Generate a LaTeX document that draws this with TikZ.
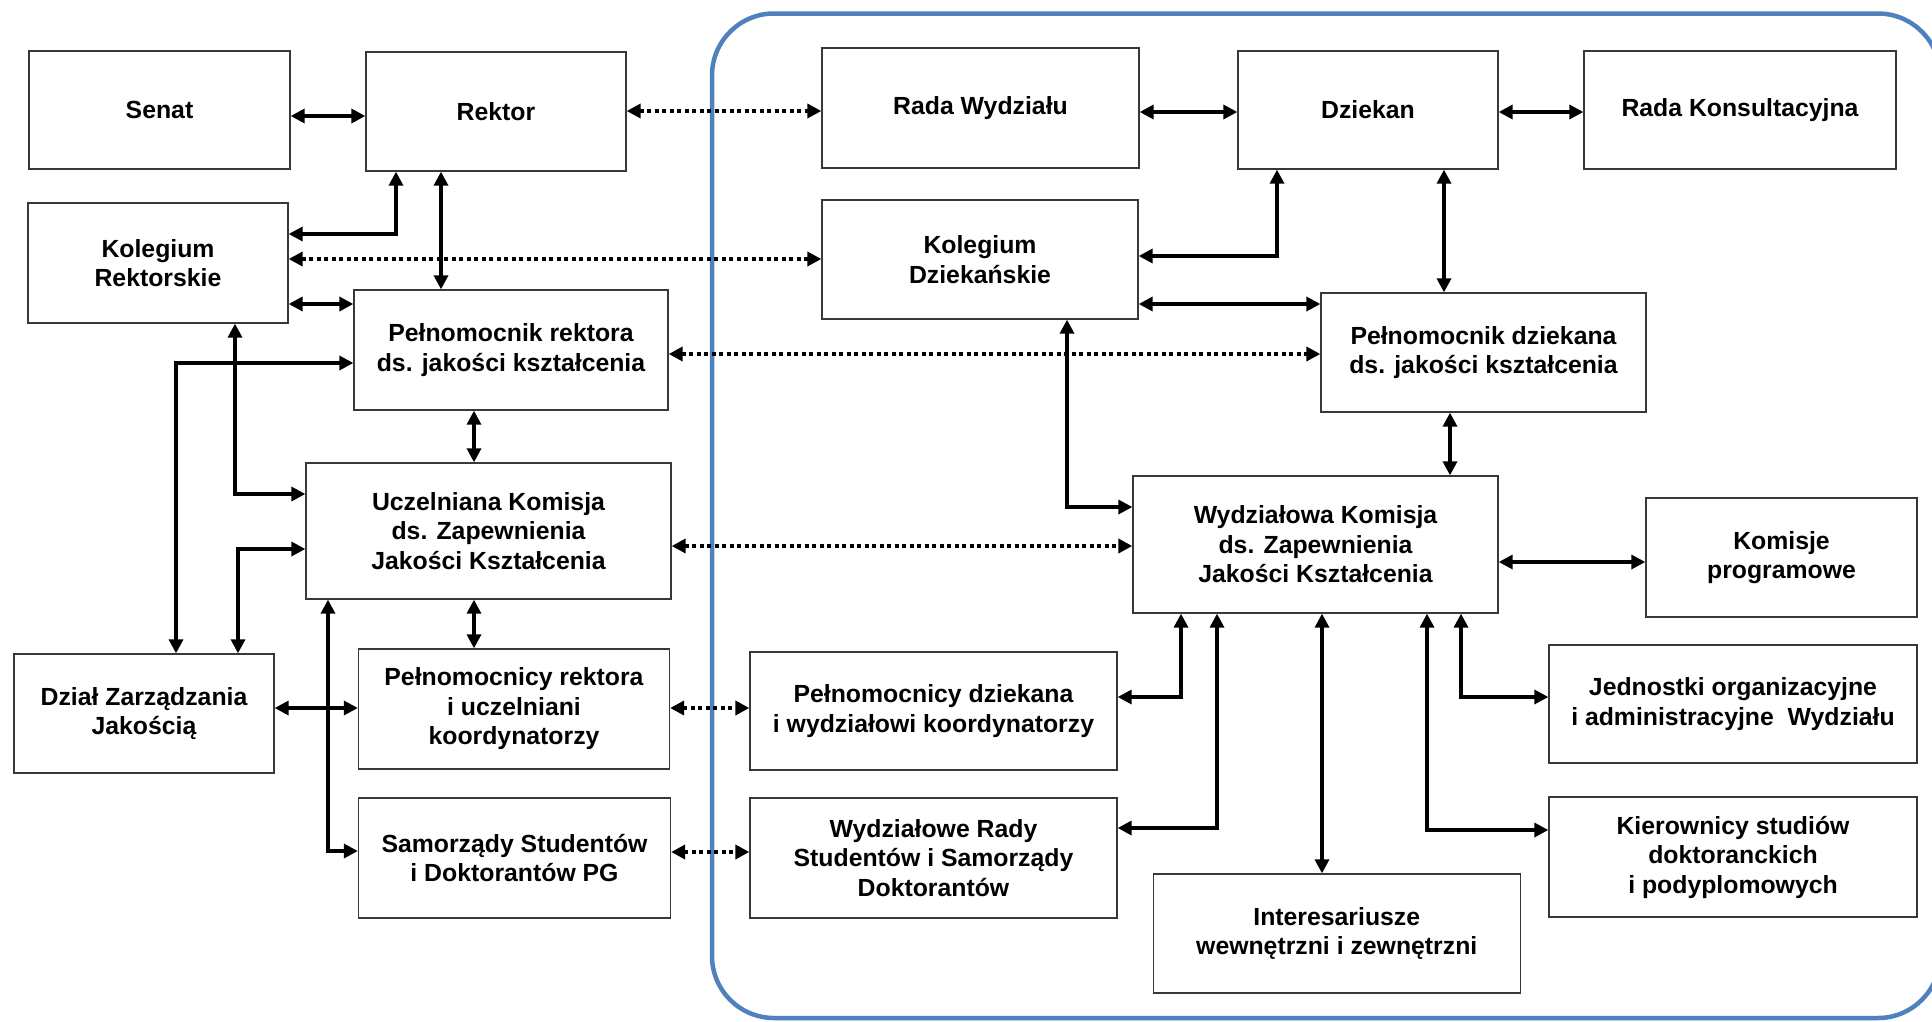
\documentclass[tikz,border=0pt]{standalone}
\usepackage{fontspec}
\setmainfont{Liberation Sans}
\usetikzlibrary{arrows.meta}
\definecolor{frameblue}{HTML}{4F81BD}
\begin{document}
\begin{tikzpicture}[x=1pt,y=-1pt,
  box/.style={draw=black!78, line width=1.3pt, fill=white, inner sep=0pt, align=center,
    font=\fontsize{24.8}{29.5}\selectfont\bfseries},
  tips/.style={{Triangle[length=14pt,width=14pt]}-{Triangle[length=14pt,width=14pt]}},
  conn/.style={tips, line width=3.3pt, black},
  dotconn/.style={tips, line width=3.6pt, black, dash pattern=on 4pt off 3.5pt},
  frame/.style={draw=frameblue, line width=4.5pt, rounded corners=62pt}]
\clip (0,0) rectangle (1932,1021);
\useasboundingbox (0,0) rectangle (1932,1021);
\fill[white] (0,0) rectangle (1932,1021);
\draw[frame] (712,13.5) rectangle (1940,1018);

% left side (university)
\node[box, minimum width=261pt, minimum height=118pt] (senat) at (159.5,110) {Senat};
\node[box, minimum width=260pt, minimum height=119pt] (rektor) at (496,111.5) {Rektor};
\node[box, minimum width=260pt, minimum height=120pt] (kolr) at (158,263) {Kolegium\\Rektorskie};
\node[box, minimum width=314pt, minimum height=120pt] (pelnr) at (511,350) {Pełnomocnik rektora\\ds. jakości kształcenia};
\node[box, minimum width=365pt, minimum height=136pt] (ucz) at (488.5,531) {Uczelniana Komisja\\ds. Zapewnienia\\Jakości Kształcenia};
\node[box, minimum width=260pt, minimum height=119pt] (dzial) at (144,713.5) {Dział Zarządzania\\Jakością};
\node[box, minimum width=311pt, minimum height=120pt] (prekt) at (514,709) {Pełnomocnicy rektora\\i uczelniani\\koordynatorzy};
\node[box, minimum width=312pt, minimum height=120pt] (samorz) at (514.5,858) {Samorządy Studentów\\i Doktorantów PG};

% right side (faculty)
\node[box, minimum width=317pt, minimum height=120pt] (radaw) at (980.5,108) {Rada Wydziału};
\node[box, minimum width=260pt, minimum height=118pt] (dziekan) at (1368,110) {Dziekan};
\node[box, minimum width=312pt, minimum height=118pt] (radak) at (1740,110) {Rada Konsultacyjna};
\node[box, minimum width=316pt, minimum height=119pt] (kold) at (980,259.5) {Kolegium\\Dziekańskie};
\node[box, minimum width=325pt, minimum height=119pt] (pelnd) at (1483.5,352.5) {Pełnomocnik dziekana\\ds. jakości kształcenia};
\node[box, minimum width=365pt, minimum height=137pt] (wk) at (1315.5,544.5) {Wydziałowa Komisja\\ds. Zapewnienia\\Jakości Kształcenia};
\node[box, minimum width=271pt, minimum height=119pt] (komisje) at (1781.5,557.5) {Komisje\\programowe};
\node[box, minimum width=368pt, minimum height=118pt] (jedn) at (1733,704) {Jednostki organizacyjne\\i administracyjne\hspace{0.28em} Wydziału};
\node[box, minimum width=367pt, minimum height=118pt] (pdz) at (933.5,711) {Pełnomocnicy dziekana\\i wydziałowi koordynatorzy};
\node[box, minimum width=367pt, minimum height=120pt] (wr) at (933.5,858) {Wydziałowe Rady\\Studentów i Samorządy\\Doktorantów};
\node[box, minimum width=368pt, minimum height=120pt] (kier) at (1733,857) {Kierownicy studiów\\doktoranckich\\i podyplomowych};
\node[box, minimum width=367pt, minimum height=119pt] (inter) at (1336.75,933.5) {Interesariusze\\wewnętrzni i zewnętrzni};

% connectors, left
\draw[conn] (senat.east |- 0,116) -- (rektor.west |- 0,116);
\draw[conn] (kolr.east |- 0,234) -| (rektor.south -| 396,0);
\draw[conn] (rektor.south -| 441,0) -- (pelnr.north -| 441,0);
\draw[conn] (kolr.east |- 0,304) -- (pelnr.west |- 0,304);
\draw[conn] (kolr.south -| 235,0) |- (ucz.west |- 0,494);
\draw[conn] (dzial.north -| 176,0) |- (pelnr.west |- 0,363);
\draw[conn] (dzial.north -| 238,0) |- (ucz.west |- 0,549);
\draw[conn] (pelnr.south -| 474,0) -- (ucz.north -| 474,0);
\draw[conn] (ucz.south -| 474,0) -- (prekt.north -| 474,0);
\draw[conn] (ucz.south -| 328,0) |- (samorz.west |- 0,851);
\draw[conn] (dzial.east |- 0,708) -- (prekt.west |- 0,708);

% dotted links between levels
\draw[dotconn] (rektor.east |- 0,111) -- (radaw.west |- 0,111);
\draw[dotconn] (kolr.east |- 0,259) -- (kold.west |- 0,259);
\draw[dotconn] (pelnr.east |- 0,354) -- (pelnd.west |- 0,354);
\draw[dotconn] (ucz.east |- 0,546) -- (wk.west |- 0,546);
\draw[dotconn] (prekt.east |- 0,708) -- (pdz.west |- 0,708);
\draw[dotconn] (samorz.east |- 0,852) -- (wr.west |- 0,852);

% connectors, right
\draw[conn] (radaw.east |- 0,112) -- (dziekan.west |- 0,112);
\draw[conn] (dziekan.east |- 0,112) -- (radak.west |- 0,112);
\draw[conn] (kold.east |- 0,256) -| (dziekan.south -| 1277,0);
\draw[conn] (kold.east |- 0,304) -- (pelnd.west |- 0,304);
\draw[conn] (dziekan.south -| 1444,0) -- (pelnd.north -| 1444,0);
\draw[conn] (kold.south -| 1067,0) |- (wk.west |- 0,507);
\draw[conn] (pelnd.south -| 1450,0) -- (wk.north -| 1450,0);
\draw[conn] (wk.east |- 0,562) -- (komisje.west |- 0,562);
\draw[conn] (wk.south -| 1181,0) |- (pdz.east |- 0,697);
\draw[conn] (wk.south -| 1217,0) |- (wr.east |- 0,828);
\draw[conn] (wk.south -| 1322,0) -- (inter.north -| 1322,0);
\draw[conn] (wk.south -| 1427,0) |- (kier.west |- 0,830);
\draw[conn] (wk.south -| 1461,0) |- (jedn.west |- 0,697);
\end{tikzpicture}
\end{document}
